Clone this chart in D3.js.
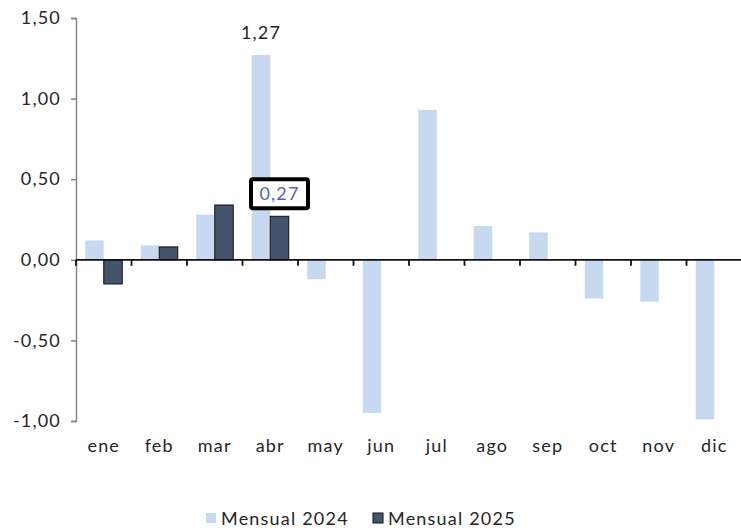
<!DOCTYPE html>
<html>
<head>
<meta charset="utf-8">
<script src="https://cdn.jsdelivr.net/npm/d3@7"></script>
<style>
  html, body { margin: 0; padding: 0; background: #fff; }
  svg text { font-family: Lato, "Noto Sans", sans-serif; font-weight: 400; letter-spacing: 1.2px; }
</style>
</head>
<body>
<svg id="chart" width="741" height="528"></svg>
<script>
const months = ["ene","feb","mar","abr","may","jun","jul","ago","sep","oct","nov","dic"];
const values2024 = [0.12, 0.09, 0.28, 1.27, -0.12, -0.95, 0.93, 0.21, 0.17, -0.24, -0.26, -0.99];
const values2025 = [-0.15, 0.08, 0.34, 0.27, null, null, null, null, null, null, null, null];
const seriesNames = ["Mensual 2024", "Mensual 2025"];
const yTicks = [-1.0, -0.5, 0, 0.5, 1.0, 1.5];
const labelled2024 = "abr";
const labelled2025 = "abr";

(function () {
const fmt = v => d3.format(".2f")(v).replace(".", ",").replace("\u2212", "-");
const colors = ["#c6d9f0", "#44546a"];
const FS = 18;

const svg = d3.select("#chart");
const mLeft = 76, mRight = 742, mTop = 18, mBottom = 421;

const x = d3.scaleBand().domain(months).range([mLeft, mRight]).paddingInner(0).paddingOuter(0);
const xs = d3.scaleBand().domain([0, 1]).range([0, x.bandwidth()]).paddingInner(0).paddingOuter(0.5);
const y = d3.scaleLinear().domain([-1.0, 1.5]).range([mBottom, mTop]);

// bars 2024
svg.append("g").selectAll("rect").data(months).join("rect")
  .attr("x", d => x(d) + xs(0))
  .attr("width", xs.bandwidth())
  .attr("y", (d, i) => y(Math.max(0, values2024[i])))
  .attr("height", (d, i) => Math.abs(y(values2024[i]) - y(0)))
  .attr("fill", colors[0]);

// bars 2025
const d25 = months.map((m, i) => ({m, v: values2025[i]})).filter(d => d.v !== null);
svg.append("g").selectAll("rect").data(d25).join("rect")
  .attr("x", d => x(d.m) + xs(1))
  .attr("width", xs.bandwidth())
  .attr("y", d => y(Math.max(0, d.v)))
  .attr("height", d => Math.abs(y(d.v) - y(0)))
  .attr("fill", colors[1])
  .attr("stroke", "#111")
  .attr("stroke-width", 1);

// y axis
const yAxis = d3.axisLeft(y).tickValues(yTicks).tickFormat(fmt).tickSize(5).tickPadding(10);
const gy = svg.append("g").attr("transform", `translate(${mLeft},0)`).call(yAxis);
gy.select(".domain").attr("stroke", "#868686").attr("stroke-width", 1.5);
gy.selectAll(".tick line").attr("stroke", "#868686").attr("stroke-width", 1.5);
gy.selectAll(".tick text").attr("font-size", FS).attr("fill", "#262626")
  .style("font-family", "Lato, 'Noto Sans', sans-serif");

// zero axis with category boundary ticks
const gx = svg.append("g").attr("transform", `translate(0,${y(0)})`);
gx.append("line").attr("x1", mLeft).attr("x2", 741).attr("stroke", "#111").attr("stroke-width", 1.8);
gx.selectAll("line.tk").data(months).join("line").attr("class", "tk")
  .attr("x1", d => x(d)).attr("x2", d => x(d)).attr("y1", 0).attr("y2", 6)
  .attr("stroke", "#111").attr("stroke-width", 1.8);

// category labels (at bottom)
svg.append("g").selectAll("text").data(months).join("text")
  .attr("x", d => x(d) + x.bandwidth() / 2)
  .attr("y", 452)
  .attr("text-anchor", "middle")
  .attr("font-size", FS)
  .attr("fill", "#262626")
  .text(d => d);

// data label 2024
const i24 = months.indexOf(labelled2024);
svg.append("text")
  .attr("x", x(labelled2024) + xs(0) + xs.bandwidth() / 2)
  .attr("y", y(values2024[i24]) - 16)
  .attr("text-anchor", "middle")
  .attr("font-size", FS)
  .attr("fill", "#262626")
  .text(fmt(values2024[i24]));

// data label 2025 in box
const i25 = months.indexOf(labelled2025);
const bx = x(labelled2025) + xs(1) + xs.bandwidth() / 2;
const by = y(values2025[i25]) - 22;
svg.append("rect")
  .attr("x", bx - 28.5).attr("y", by - 15)
  .attr("width", 57).attr("height", 29)
  .attr("rx", 2)
  .attr("fill", "#fff").attr("stroke", "#000").attr("stroke-width", 4);
svg.append("text")
  .attr("x", bx).attr("y", by + 6)
  .attr("text-anchor", "middle")
  .attr("font-size", FS)
  .attr("fill", "#5b5fb0")
  .text(fmt(values2025[i25]));

// legend
const legend = svg.append("g");
const legX = [206, 373];
seriesNames.forEach((name, i) => {
  legend.append("rect")
    .attr("x", legX[i]).attr("y", 513).attr("width", 10).attr("height", 10)
    .attr("fill", colors[i])
    .attr("stroke", i === 1 ? "#111" : "none").attr("stroke-width", 1);
  legend.append("text")
    .attr("x", legX[i] + 15).attr("y", 525)
    .attr("font-size", FS).attr("fill", "#262626")
    .text(name);
});
})();
</script>
</body>
</html>
